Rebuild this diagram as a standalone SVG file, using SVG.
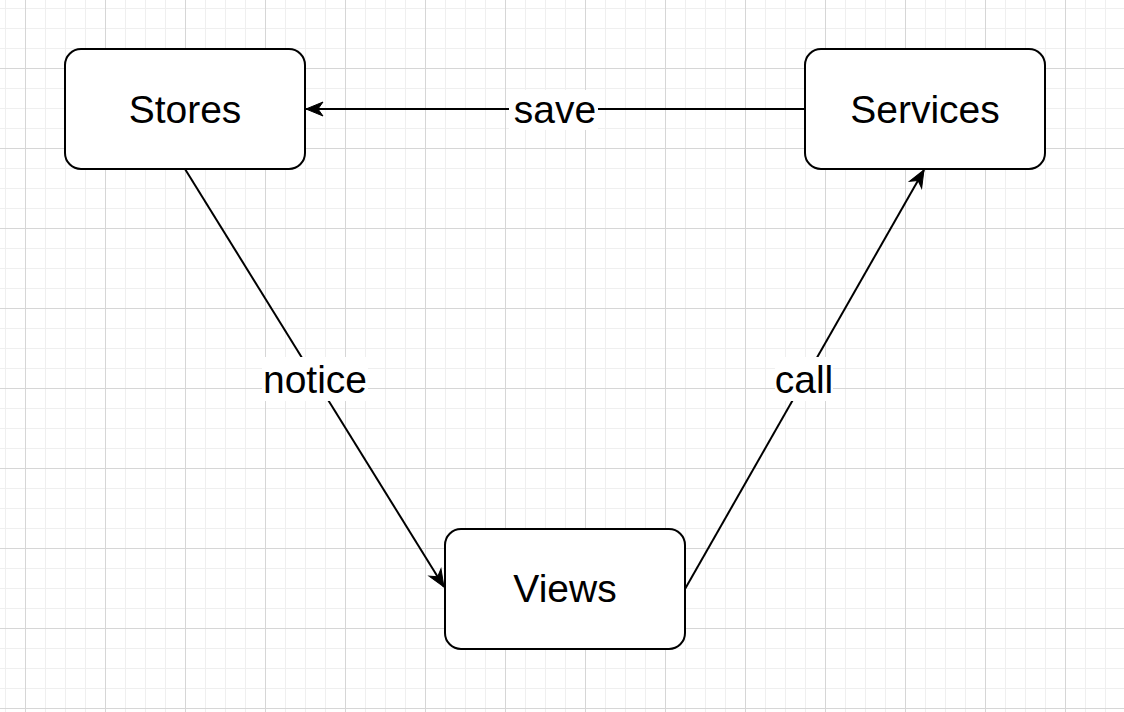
<svg xmlns="http://www.w3.org/2000/svg" width="1124" height="712" viewBox="0 0 1124 712">
  <style>
    .node rect { fill: #ffffff; stroke: #000000; stroke-width: 2; }
    .node text, .label text { font-family: "Liberation Sans", Arial, Helvetica, sans-serif; font-size: 39px; fill: #000000; text-anchor: middle; }
    .edge { fill: none; stroke: #000000; stroke-width: 2; marker-end: url(#arrow); }
    .label rect { fill: #ffffff; stroke: none; }
  </style>
  <defs>
    <pattern id="grid" patternUnits="userSpaceOnUse" x="25" y="68" width="80" height="80">
      <rect x="20" y="0" width="1" height="80" fill="#efefef"/>
      <rect x="40" y="0" width="1" height="80" fill="#efefef"/>
      <rect x="60" y="0" width="1" height="80" fill="#efefef"/>
      <rect x="0" y="20" width="80" height="1" fill="#efefef"/>
      <rect x="0" y="40" width="80" height="1" fill="#efefef"/>
      <rect x="0" y="60" width="80" height="1" fill="#efefef"/>
      <rect x="0" y="0" width="1" height="80" fill="#d6d6d6"/>
      <rect x="0" y="0" width="80" height="1" fill="#d6d6d6"/>
    </pattern>
    <marker id="arrow" markerUnits="userSpaceOnUse" viewBox="-19 -9 20 18" refX="0" refY="0" markerWidth="20" markerHeight="18" orient="auto">
      <path d="M0,0 L-17,-7 L-12,0 L-17,7 Z" fill="#000000" stroke="#000000" stroke-width="1" stroke-linejoin="miter"/>
    </marker>
  </defs>
  <rect x="0" y="0" width="1124" height="712" fill="#ffffff"/>
  <rect x="0" y="0" width="1124" height="712" fill="url(#grid)"/>

  <g id="connectors">
    <line class="edge" x1="805" y1="109" x2="306" y2="109"/>
    <line class="edge" x1="185" y1="169" x2="444" y2="587"/>
    <line class="edge" x1="685" y1="589" x2="924" y2="170"/>
    <g class="label" id="label-save">
      <rect x="509" y="90" width="89" height="40"/>
      <text x="555" y="122.7">save</text>
    </g>
    <g class="label" id="label-notice">
      <rect x="262" y="357" width="106" height="44"/>
      <text x="315" y="393">notice</text>
    </g>
    <g class="label" id="label-call">
      <rect x="775" y="357" width="58" height="44"/>
      <text x="804" y="393">call</text>
    </g>
  </g>

  <g id="node-stores" class="node">
    <rect x="65" y="49" width="240" height="120" rx="16" ry="16"/>
    <text x="185" y="123">Stores</text>
  </g>
  <g id="node-services" class="node">
    <rect x="805" y="49" width="240" height="120" rx="16" ry="16"/>
    <text x="925" y="122.5">Services</text>
  </g>
  <g id="node-views" class="node">
    <rect x="445" y="529" width="240" height="120" rx="16" ry="16"/>
    <text x="565" y="602">Views</text>
  </g>
</svg>
